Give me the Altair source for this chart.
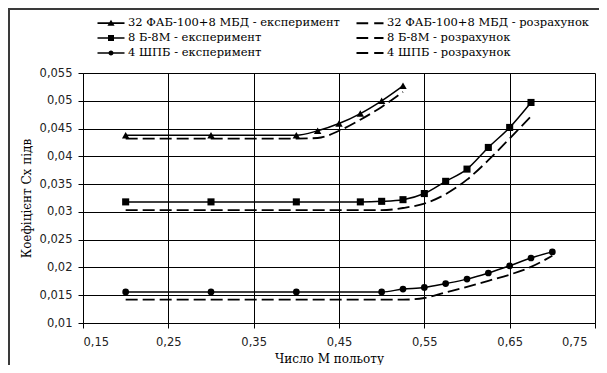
import altair as alt
import pandas as pd

# ---- data ----
S1e = "32 ФАБ-100+8 МБД - експеримент"
S1c = "32 ФАБ-100+8 МБД - розрахунок"
S2e = "8 Б-8М - експеримент"
S2c = "8 Б-8М - розрахунок"
S3e = "4 ШПБ - експеримент"
S3c = "4 ШПБ - розрахунок"

M_fab = [0.2, 0.3, 0.4, 0.425, 0.45, 0.475, 0.5, 0.525]
cx_fab_exp = [0.0438, 0.0438, 0.0438, 0.0446, 0.0459, 0.0477, 0.0500, 0.0527]
cx_fab_calc = [0.0432, 0.0432, 0.0432, 0.0433, 0.0446, 0.0466, 0.0489, 0.0516]

M_b8 = [0.2, 0.3, 0.4, 0.475, 0.5, 0.525, 0.55, 0.575, 0.6, 0.625, 0.65, 0.675]
cx_b8_exp = [0.0318, 0.0318, 0.0318, 0.0318, 0.0319, 0.0322, 0.0333, 0.0355, 0.0377, 0.0416, 0.0452, 0.0497]
cx_b8_calc = [0.0303, 0.0303, 0.0303, 0.0303, 0.0303, 0.0307, 0.0315, 0.0332, 0.0358, 0.0393, 0.0432, 0.0472]

M_spb = [0.2, 0.3, 0.4, 0.5, 0.525, 0.55, 0.575, 0.6, 0.625, 0.65, 0.675, 0.7]
cx_spb_exp = [0.0156, 0.0156, 0.0156, 0.0156, 0.0161, 0.0164, 0.0171, 0.0179, 0.0190, 0.0203, 0.0217, 0.0228]
cx_spb_calc = [0.0142, 0.0142, 0.0142, 0.0142, 0.0142, 0.0145, 0.0155, 0.0165, 0.0176, 0.0187, 0.0201, 0.0221]

x_ticks = [0.15, 0.25, 0.35, 0.45, 0.55, 0.65, 0.75]
y_ticks = [0.01, 0.015, 0.02, 0.025, 0.03, 0.035, 0.04, 0.045, 0.05, 0.055]

# legend fills column by column: left column = experiment, right column = calculation
series_order = [S1e, S2e, S3e, S1c, S2c, S3c]

rows = []
for name, ms, vs, kind in [
    (S1e, M_fab, cx_fab_exp, "exp"), (S1c, M_fab, cx_fab_calc, "calc"),
    (S2e, M_b8, cx_b8_exp, "exp"), (S2c, M_b8, cx_b8_calc, "calc"),
    (S3e, M_spb, cx_spb_exp, "exp"), (S3c, M_spb, cx_spb_calc, "calc"),
]:
    for m, v in zip(ms, vs):
        rows.append({"series": name, "M": m, "Cx": v, "kind": kind})
df = pd.DataFrame(rows)
df_exp = df[df.kind == "exp"]
df_calc = df[df.kind == "calc"]

# legend symbols (fill-only paths, all clockwise): line + marker
LINE = "M-2.25,-0.13L2.25,-0.13L2.25,0.13L-2.25,0.13Z"
DASH = "M-2.25,-0.17L-0.3,-0.17L-0.3,0.17L-2.25,0.17ZM0.7,-0.17L2.25,-0.17L2.25,0.17L0.7,0.17Z"
TRI = LINE + "M0,-0.55L0.6,0.45L-0.6,0.45Z"
SQR = LINE + "M-0.5,-0.5L0.5,-0.5L0.5,0.5L-0.5,0.5Z"
CIR = LINE + "M-0.42,0A0.42,0.42 0 1,1 0.42,0A0.42,0.42 0 1,1 -0.42,0Z"
legend_paths = [TRI, SQR, CIR, DASH, DASH, DASH]

SERIF = "DejaVu Serif"

xs = alt.Scale(domain=[0.15, 0.75], nice=False, zero=False)
ys = alt.Scale(domain=[0.01, 0.055], nice=False, zero=False)

X = alt.X("M:Q", scale=xs, title="Число М польоту",
          axis=alt.Axis(values=x_ticks, grid=True,
                        labelExpr="replace(format(datum.value, '.2f'), '.', ',')",
                        labelPadding=8, titleX=246, titleY=39,
                        titleBaseline="alphabetic", titleAnchor="start", titleAlign="center",
                        labelOffset={"condition": {"test": "datum.value > 0.7", "value": -8}, "value": 0}))
Y = alt.Y("Cx:Q", scale=ys, title="Коефіцієнт Сх підв",
          axis=alt.Axis(values=y_ticks, grid=True,
                        labelExpr="replace(format(datum.value, '.3~f'), '.', ',')",
                        labelPadding=6, titleX=-50, titleY=125, titleAngle=270,
                        titleBaseline="bottom", titleAlign="center", titleAnchor="start"))

frame = alt.Chart(alt.Data(values=[{"a": 1}])).mark_rect(
    fill="transparent", stroke="#3a3a3a", strokeWidth=2, clip=False
).encode(x=alt.value(-74), y=alt.value(-64), x2=alt.value(530), y2=alt.value(300))

solid = alt.Chart(df_exp).mark_line(color="black", strokeWidth=1.5, interpolate="monotone").encode(
    x=X, y=Y, detail="series:N")
dashed = alt.Chart(df_calc).mark_line(color="black", strokeWidth=1.8, strokeDash=[12, 5],
                                      interpolate="monotone").encode(x=X, y=Y, detail="series:N")
points = alt.Chart(df_exp).mark_point(filled=True, color="black", opacity=1).encode(
    x=X, y=Y,
    shape=alt.Shape("series:N", scale=alt.Scale(domain=[S1e, S2e, S3e],
                                                range=["triangle-up", "square", "circle"]), legend=None),
    size=alt.Size("series:N", scale=alt.Scale(domain=[S1e, S2e, S3e], range=[55, 45, 28]), legend=None),
)
legend_layer = alt.Chart(df).mark_point(filled=True, color="black", opacity=0).encode(
    x=X, y=Y,
    shape=alt.Shape("series:N", sort=series_order,
                    scale=alt.Scale(domain=series_order, range=legend_paths),
                    legend=alt.Legend(title=None, orient="none", legendX=21, legendY=-57,
                                      columns=2, columnPadding=13, rowPadding=2, padding=0,
                                      symbolSize=144, labelOffset=10, labelLimit=400,
                                      symbolOpacity=1, symbolFillColor="black",
                                      labelFont=SERIF, labelFontSize=11.5, labelColor="black")),
)

chart = alt.layer(frame, solid, dashed, points, legend_layer).resolve_scale(
    shape="independent", size="independent"
).properties(
    width=512, height=250,
    padding={"left": 75, "top": 65, "right": 4, "bottom": 42},
    autosize=alt.AutoSizeParams(type="none"),
).configure_view(stroke=None).configure_axis(
    domainColor="black", tickColor="black", gridColor="black", gridWidth=1,
    tickSize=5, labelFont="DejaVu Sans", labelFontSize=11.5, labelColor="#222222",
    titleFont=SERIF, titleFontSize=12, titleFontWeight="normal", titleColor="black",
)

chart.save("out.html", embed_options={"renderer": "svg", "actions": False})
